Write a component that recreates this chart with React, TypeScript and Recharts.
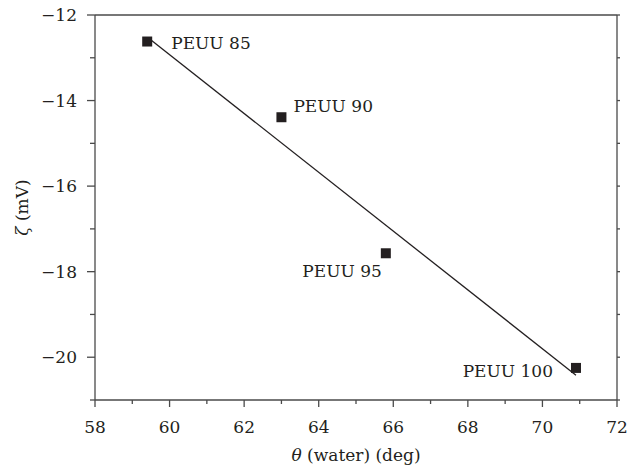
import { ScatterChart, Scatter, XAxis, YAxis } from 'recharts';

const samples = ['PEUU 85', 'PEUU 90', 'PEUU 95', 'PEUU 100'];
const contactAngle = [59.4, 63.0, 65.8, 70.9];
const zeta = [-12.62, -14.39, -17.57, -20.25];

// linear fit drawn through the points
const fitAngle = [59.45, 70.9];
const fitZeta = [-12.55, -20.42];

const xTicks = [58, 59, 60, 61, 62, 63, 64, 65, 66, 67, 68, 69, 70, 71, 72];
const yTicks = [-21, -20, -19, -18, -17, -16, -15, -14, -13, -12];

const FONT = "'DejaVu Serif', serif";
const INK = '#231f20';
const AXIS = '#4a4a4a';
const FS = 17;
const textStyle = { fontFamily: FONT, fontSize: FS };

// where each point's name sits relative to its marker
const labelPos: Record<string, { dx: number; dy: number; anchor: 'start' | 'end' }> = {
  'PEUU 85': { dx: 24, dy: 1, anchor: 'start' },
  'PEUU 90': { dx: 12, dy: -11, anchor: 'start' },
  'PEUU 95': { dx: -4, dy: 18, anchor: 'end' },
  'PEUU 100': { dx: -23, dy: 3, anchor: 'end' },
};

const points = samples.map((name, i) => ({ name, x: contactAngle[i], y: zeta[i] }));
const fit = fitAngle.map((x, i) => ({ x, y: fitZeta[i] }));

const minus = (v: number) => (v < 0 ? `\u2212${Math.abs(v)}` : `${v}`);

function BottomTick(props: any) {
  const { x, y, payload } = props;
  const major = payload.value % 2 === 0;
  return (
    <g>
      <line x1={x} y1={y} x2={x} y2={y + (major ? 7 : 4)} stroke={AXIS} strokeWidth={1.3} />
      {major && (
        <text x={x} y={y + 27} textAnchor="middle" dominantBaseline="central" style={textStyle} fill={INK}>
          {payload.value}
        </text>
      )}
    </g>
  );
}

function LeftTick(props: any) {
  const { x, y, payload } = props;
  const major = payload.value % 2 === 0;
  return (
    <g>
      <line x1={x} y1={y} x2={x - (major ? 8 : 5)} y2={y} stroke={AXIS} strokeWidth={1.3} />
      {major && (
        <text x={x - 18} y={y} textAnchor="end" dominantBaseline="central" style={textStyle} fill={INK}>
          {minus(payload.value)}
        </text>
      )}
    </g>
  );
}

function TopTick(props: any) {
  const { x, y } = props;
  return <line x1={x} y1={y} x2={x} y2={y - 3} stroke={AXIS} strokeWidth={1.3} />;
}

function RightTick(props: any) {
  const { x, y } = props;
  return <line x1={x} y1={y} x2={x + 3} y2={y} stroke={AXIS} strokeWidth={1.3} />;
}

function SquarePoint(props: any) {
  const { cx, cy, payload } = props;
  const pos = labelPos[payload.name];
  return (
    <g>
      <rect x={cx - 5} y={cy - 5} width={10} height={10} fill={INK} />
      <text
        x={cx + pos.dx}
        y={cy + pos.dy}
        textAnchor={pos.anchor}
        dominantBaseline="central"
        style={textStyle}
        fill={INK}
      >
        {payload.name}
      </text>
    </g>
  );
}

const NoDot = () => <g />;

export default function App() {
  return (
    <div style={{ position: 'absolute', left: 0, top: 0, background: '#fff', fontFamily: FONT }}>
      <ScatterChart width={628} height={469} margin={{ top: 0, right: 0, bottom: 0, left: 0 }}>
        <XAxis
          dataKey="x"
          type="number"
          domain={[58, 72]}
          ticks={xTicks}
          allowDataOverflow
          height={69}
          tickSize={0}
          tickMargin={0}
          tickLine={false}
          tick={<BottomTick />}
          stroke={AXIS}
          strokeWidth={1.3}
          interval={0}
          label={{
            content: (p: any) => {
              const vb = p.viewBox;
              return (
                <text x={vb.x + vb.width / 2} y={455} textAnchor="middle" dominantBaseline="central" style={textStyle} fill={INK}>
                  <tspan fontStyle="italic">θ</tspan> (water) (deg)
                </text>
              );
            },
          }}
        />
        <XAxis
          xAxisId="top"
          orientation="top"
          type="number"
          domain={[58, 72]}
          ticks={xTicks}
          allowDataOverflow
          height={15}
          tickSize={0}
          tickMargin={0}
          tickLine={false}
          tick={<TopTick />}
          stroke={AXIS}
          strokeWidth={1.3}
          interval={0}
        />
        <YAxis
          dataKey="y"
          type="number"
          domain={[-21, -12]}
          ticks={yTicks}
          allowDataOverflow
          width={95}
          tickSize={0}
          tickMargin={0}
          tickLine={false}
          tick={<LeftTick />}
          stroke={AXIS}
          strokeWidth={1.3}
          interval={0}
          label={{
            content: (p: any) => {
              const vb = p.viewBox;
              const cy = vb.y + vb.height / 2;
              return (
                <text x={22} y={cy} transform={`rotate(-90 22 ${cy})`} textAnchor="middle" dominantBaseline="central" style={textStyle} fill={INK}>
                  <tspan fontStyle="italic">ζ</tspan> (mV)
                </text>
              );
            },
          }}
        />
        <YAxis
          yAxisId="right"
          orientation="right"
          type="number"
          domain={[-21, -12]}
          ticks={yTicks}
          allowDataOverflow
          width={11}
          tickSize={0}
          tickMargin={0}
          tickLine={false}
          tick={<RightTick />}
          stroke={AXIS}
          strokeWidth={1.3}
          interval={0}
        />
        <Scatter data={fit} line={{ stroke: INK, strokeWidth: 1.3 }} shape={<NoDot />} isAnimationActive={false} />
        <Scatter data={points} shape={<SquarePoint />} isAnimationActive={false} />
      </ScatterChart>
    </div>
  );
}
